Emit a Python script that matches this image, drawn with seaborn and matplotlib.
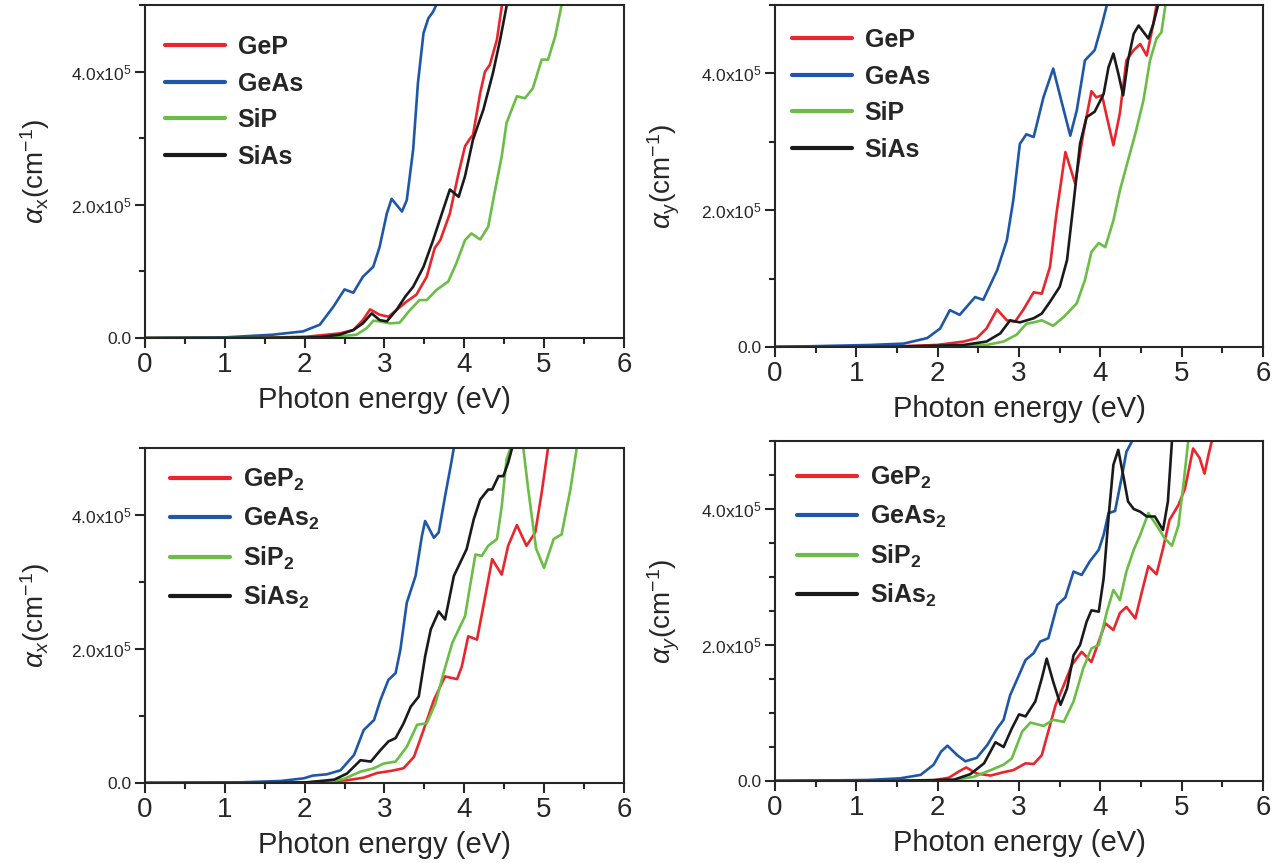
import numpy as np
import pandas as pd
import matplotlib
matplotlib.use("Agg")
from matplotlib import pyplot as plt
from matplotlib.ticker import MultipleLocator, FixedLocator, FixedFormatter
import seaborn as sns

# photon energy (eV) and absorption (in units of 1e5 cm^-1)
# --- top left: alpha_x, monolayers
tl_gep_e = [0, 1.5, 2.03, 2.44, 2.61, 2.73, 2.82, 2.94, 3.05, 3.15, 3.28, 3.4, 3.53, 3.63, 3.7, 3.82, 3.93, 4.01, 4.07, 4.11, 4.2, 4.26, 4.32, 4.41, 4.47, 4.52]
tl_gep_a = [0, 0.005, 0.02, 0.07, 0.12, 0.27, 0.43, 0.35, 0.32, 0.42, 0.55, 0.65, 0.92, 1.35, 1.47, 1.87, 2.48, 2.88, 2.99, 3.05, 3.68, 4.0, 4.1, 4.48, 4.98, 5.4]
tl_geas_e = [0, 1.0, 1.6, 1.98, 2.19, 2.36, 2.5, 2.61, 2.73, 2.86, 2.94, 3.03, 3.09, 3.22, 3.28, 3.36, 3.42, 3.49, 3.55, 3.61, 3.65, 3.72]
tl_geas_a = [0, 0.01, 0.05, 0.1, 0.2, 0.47, 0.73, 0.68, 0.92, 1.07, 1.37, 1.87, 2.09, 1.9, 2.07, 2.83, 3.83, 4.58, 4.8, 4.9, 5.0, 5.4]
tl_sip_e = [0, 1.5, 2.3, 2.65, 2.78, 2.86, 2.94, 3.07, 3.19, 3.32, 3.44, 3.53, 3.65, 3.8, 3.9, 4.01, 4.09, 4.2, 4.3, 4.38, 4.47, 4.53, 4.66, 4.76, 4.86, 4.97, 5.05, 5.14, 5.22, 5.28]
tl_sip_a = [0, 0.002, 0.01, 0.05, 0.15, 0.26, 0.25, 0.22, 0.23, 0.42, 0.57, 0.57, 0.72, 0.85, 1.12, 1.47, 1.57, 1.48, 1.67, 2.18, 2.73, 3.23, 3.63, 3.6, 3.75, 4.18, 4.18, 4.53, 5.0, 5.4]
tl_sias_e = [0, 1.5, 2.2, 2.44, 2.61, 2.73, 2.84, 2.94, 3.03, 3.15, 3.26, 3.36, 3.49, 3.61, 3.72, 3.82, 3.93, 4.01, 4.11, 4.24, 4.36, 4.45, 4.53, 4.6]
tl_sias_a = [0, 0.003, 0.015, 0.05, 0.12, 0.22, 0.37, 0.27, 0.25, 0.42, 0.62, 0.77, 1.07, 1.47, 1.87, 2.23, 2.12, 2.43, 2.98, 3.43, 3.98, 4.48, 4.98, 5.4]

# --- top right: alpha_y, monolayers
tr_gep_e = [0, 1.5, 1.99, 2.32, 2.48, 2.6, 2.73, 2.85, 2.95, 3.05, 3.18, 3.28, 3.38, 3.46, 3.57, 3.69, 3.79, 3.89, 3.95, 4.02, 4.08, 4.16, 4.24, 4.32, 4.41, 4.49, 4.57, 4.65, 4.69, 4.74]
tr_gep_a = [0, 0.01, 0.03, 0.08, 0.13, 0.27, 0.55, 0.39, 0.37, 0.54, 0.8, 0.78, 1.17, 1.95, 2.85, 2.39, 3.12, 3.74, 3.65, 3.68, 3.36, 2.95, 3.42, 4.19, 4.34, 4.43, 4.26, 4.72, 5.0, 5.4]
tr_geas_e = [0, 1.17, 1.58, 1.87, 2.03, 2.15, 2.27, 2.46, 2.56, 2.73, 2.85, 2.93, 3.01, 3.09, 3.18, 3.3, 3.42, 3.52, 3.63, 3.71, 3.81, 3.93, 4.02, 4.08, 4.14]
tr_geas_a = [0, 0.03, 0.05, 0.13, 0.27, 0.54, 0.47, 0.73, 0.69, 1.12, 1.56, 2.15, 2.97, 3.11, 3.07, 3.65, 4.07, 3.6, 3.09, 3.46, 4.19, 4.34, 4.72, 5.0, 5.4]
tr_sip_e = [0, 1.5, 2.6, 2.81, 2.97, 3.09, 3.18, 3.28, 3.42, 3.55, 3.71, 3.81, 3.89, 3.98, 4.06, 4.16, 4.24, 4.34, 4.43, 4.53, 4.61, 4.69, 4.75, 4.8, 4.85]
tr_sip_a = [0, 0.002, 0.03, 0.08, 0.18, 0.34, 0.36, 0.39, 0.31, 0.44, 0.64, 0.98, 1.39, 1.52, 1.46, 1.85, 2.29, 2.73, 3.12, 3.61, 4.19, 4.51, 4.6, 5.0, 5.4]
tr_sias_e = [0, 1.5, 2.32, 2.6, 2.77, 2.89, 3.01, 3.18, 3.28, 3.38, 3.5, 3.59, 3.67, 3.75, 3.83, 3.93, 4.04, 4.1, 4.16, 4.22, 4.28, 4.34, 4.41, 4.47, 4.59, 4.65, 4.71, 4.76]
tr_sias_a = [0, 0.005, 0.03, 0.08, 0.2, 0.39, 0.36, 0.42, 0.49, 0.66, 0.88, 1.27, 2.1, 2.97, 3.36, 3.44, 3.7, 4.09, 4.29, 4.0, 3.68, 4.19, 4.58, 4.7, 4.51, 4.72, 5.0, 5.4]

# --- bottom left: alpha_x, X2 compounds
bl_gep2_e = [0, 1.5, 2.03, 2.53, 2.74, 2.91, 3.08, 3.24, 3.37, 3.49, 3.62, 3.76, 3.91, 3.97, 4.05, 4.16, 4.24, 4.35, 4.47, 4.55, 4.66, 4.78, 4.89, 4.97, 5.05, 5.1]
bl_gep2_a = [0, 0.002, 0.01, 0.04, 0.08, 0.15, 0.18, 0.22, 0.39, 0.79, 1.24, 1.59, 1.55, 1.74, 2.19, 2.14, 2.64, 3.34, 3.11, 3.54, 3.85, 3.54, 3.74, 4.33, 5.0, 5.4]
bl_geas2_e = [0, 1.2, 1.7, 1.99, 2.1, 2.28, 2.45, 2.62, 2.74, 2.87, 2.95, 3.05, 3.14, 3.2, 3.28, 3.39, 3.47, 3.51, 3.62, 3.68, 3.76, 3.83, 3.87, 3.92]
bl_geas2_a = [0, 0.01, 0.03, 0.07, 0.11, 0.13, 0.19, 0.42, 0.79, 0.94, 1.24, 1.54, 1.64, 1.99, 2.69, 3.09, 3.69, 3.91, 3.66, 3.74, 4.28, 4.73, 5.0, 5.4]
bl_sip2_e = [0, 1.5, 2.24, 2.49, 2.7, 2.87, 2.99, 3.14, 3.28, 3.41, 3.53, 3.64, 3.74, 3.85, 3.93, 4.01, 4.08, 4.14, 4.22, 4.3, 4.41, 4.47, 4.53, 4.58, 4.66, 4.74, 4.8, 4.9, 5.0, 5.12, 5.22, 5.33, 5.41, 5.46]
bl_sip2_a = [0, 0.002, 0.01, 0.06, 0.17, 0.22, 0.29, 0.32, 0.54, 0.87, 0.89, 1.19, 1.64, 2.09, 2.29, 2.49, 2.99, 3.41, 3.39, 3.54, 3.64, 4.13, 4.83, 5.0, 5.6, 5.0, 4.4, 3.5, 3.21, 3.64, 3.71, 4.38, 5.0, 5.4]
bl_sias2_e = [0, 1.5, 2.03, 2.37, 2.53, 2.7, 2.83, 2.95, 3.05, 3.14, 3.24, 3.33, 3.43, 3.51, 3.58, 3.68, 3.76, 3.87, 3.95, 4.03, 4.12, 4.2, 4.3, 4.35, 4.43, 4.49, 4.55, 4.6, 4.65]
bl_sias2_a = [0, 0.003, 0.01, 0.05, 0.14, 0.34, 0.32, 0.49, 0.62, 0.67, 0.89, 1.14, 1.29, 1.89, 2.29, 2.56, 2.44, 3.09, 3.29, 3.49, 3.94, 4.23, 4.38, 4.38, 4.58, 4.58, 4.78, 5.0, 5.4]

# --- bottom right: alpha_y, X2 compounds
br_gep2_e = [0, 1.5, 1.95, 2.14, 2.26, 2.35, 2.48, 2.65, 2.81, 2.93, 3.08, 3.18, 3.28, 3.36, 3.45, 3.55, 3.65, 3.77, 3.89, 3.98, 4.06, 4.16, 4.24, 4.32, 4.43, 4.51, 4.59, 4.69, 4.77, 4.85, 4.96, 5.04, 5.14, 5.22, 5.28, 5.33, 5.37, 5.42]
br_gep2_a = [0, 0.002, 0.01, 0.05, 0.14, 0.2, 0.11, 0.08, 0.13, 0.16, 0.26, 0.25, 0.38, 0.73, 1.12, 1.41, 1.71, 1.9, 1.75, 2.05, 2.32, 2.22, 2.47, 2.56, 2.39, 2.78, 3.16, 3.04, 3.42, 3.84, 4.06, 4.3, 4.89, 4.75, 4.52, 4.8, 5.0, 5.4]
br_geas2_e = [0, 1.14, 1.54, 1.79, 1.95, 2.04, 2.12, 2.24, 2.34, 2.48, 2.61, 2.73, 2.81, 2.89, 3.0, 3.08, 3.18, 3.26, 3.36, 3.47, 3.57, 3.67, 3.77, 3.87, 3.98, 4.04, 4.1, 4.18, 4.26, 4.32, 4.39, 4.44]
br_geas2_a = [0, 0.015, 0.04, 0.09, 0.24, 0.43, 0.52, 0.38, 0.29, 0.34, 0.53, 0.77, 0.9, 1.26, 1.56, 1.78, 1.88, 2.05, 2.1, 2.59, 2.7, 3.08, 3.03, 3.23, 3.4, 3.62, 3.94, 3.97, 4.45, 4.84, 5.0, 5.4]
br_sip2_e = [0, 1.5, 2.16, 2.44, 2.65, 2.81, 2.91, 3.04, 3.14, 3.3, 3.42, 3.55, 3.67, 3.79, 3.89, 3.98, 4.08, 4.16, 4.24, 4.32, 4.41, 4.49, 4.59, 4.69, 4.79, 4.88, 4.96, 5.02, 5.08, 5.12]
br_sip2_a = [0, 0.002, 0.01, 0.06, 0.16, 0.24, 0.33, 0.73, 0.86, 0.81, 0.9, 0.87, 1.17, 1.66, 1.95, 2.0, 2.49, 2.81, 2.66, 3.08, 3.4, 3.62, 3.94, 3.76, 3.57, 3.46, 3.76, 4.35, 5.0, 5.4]
br_sias2_e = [0, 1.5, 2.2, 2.4, 2.57, 2.71, 2.81, 2.91, 3.0, 3.08, 3.2, 3.28, 3.34, 3.42, 3.51, 3.59, 3.67, 3.75, 3.83, 3.89, 3.98, 4.04, 4.1, 4.16, 4.22, 4.28, 4.34, 4.41, 4.49, 4.57, 4.67, 4.77, 4.83, 4.88, 4.92]
br_sias2_a = [0, 0.003, 0.02, 0.1, 0.26, 0.57, 0.5, 0.77, 0.98, 0.95, 1.17, 1.51, 1.8, 1.46, 1.12, 1.36, 1.85, 2.0, 2.34, 2.51, 2.49, 2.98, 3.87, 4.65, 4.87, 4.5, 4.11, 4.0, 3.96, 3.89, 3.89, 3.69, 4.11, 5.0, 5.4]

labels_mono = ["GeP", "GeAs", "SiP", "SiAs"]
labels_di = [r"GeP$_\mathbf{2}$", r"GeAs$_\mathbf{2}$", r"SiP$_\mathbf{2}$", r"SiAs$_\mathbf{2}$"]
colors = ["#e8262b", "#1f57a8", "#6abd45", "#1a1a1a"]
ytick_vals = [0, 2e5, 4e5]
ytick_labels = ["0.0", r"2.0x10$^5$", r"4.0x10$^5$"]

sns.set_style("ticks")
plt.rcParams["font.family"] = ["Liberation Sans", "DejaVu Sans"]
plt.rcParams["mathtext.fontset"] = "custom"
plt.rcParams["mathtext.rm"] = "Liberation Sans"
plt.rcParams["mathtext.it"] = "Liberation Sans:italic"
plt.rcParams["mathtext.bf"] = "Liberation Sans:bold"
plt.rcParams["axes.linewidth"] = 1.5

fig = plt.figure(figsize=(12.81, 8.63), dpi=100)

panels = [
    # rect, data, labels, ylabel, minor y step, legend nudge (px right, px down)
    ([0.1132, 0.6083, 0.3738, 0.3859],
     [(tl_gep_e, tl_gep_a), (tl_geas_e, tl_geas_a), (tl_sip_e, tl_sip_a), (tl_sias_e, tl_sias_a)],
     labels_mono, r"$\alpha_\mathrm{x}$(cm$^{-1}$)", 1e5, (0, 10)),
    ([0.6050, 0.5979, 0.3810, 0.3963],
     [(tr_gep_e, tr_gep_a), (tr_geas_e, tr_geas_a), (tr_sip_e, tr_sip_a), (tr_sias_e, tr_sias_a)],
     labels_mono, r"$\alpha_\mathrm{y}$(cm$^{-1}$)", 1e5, (-3, 3)),
    ([0.1132, 0.0927, 0.3738, 0.3882],
     [(bl_gep2_e, bl_gep2_a), (bl_geas2_e, bl_geas2_a), (bl_sip2_e, bl_sip2_a), (bl_sias2_e, bl_sias2_a)],
     labels_di, r"$\alpha_x$(cm$^{-1}$)", 1e5, (5, -1)),
    ([0.6050, 0.0950, 0.3810, 0.3940],
     [(br_gep2_e, br_gep2_a), (br_geas2_e, br_geas2_a), (br_sip2_e, br_sip2_a), (br_sias2_e, br_sias2_a)],
     labels_di, r"$\alpha_y$(cm$^{-1}$)", 0.5e5, (2, 4)),
]

for rect, series, names, ylab, ystep, nudge in panels:
    ax = fig.add_axes(rect)
    for (e, a), name, c in zip(series, names, colors):
        df = pd.DataFrame({"energy": e, "alpha": np.array(a) * 1e5})
        sns.lineplot(data=df, x="energy", y="alpha", color=c, lw=1.9, label=name, ax=ax)
    ax.set_xlim(0, 6)
    ax.set_ylim(0, 5e5)
    ax.xaxis.set_major_locator(MultipleLocator(1))
    ax.xaxis.set_minor_locator(MultipleLocator(0.5))
    ax.yaxis.set_major_locator(FixedLocator(ytick_vals))
    ax.yaxis.set_major_formatter(FixedFormatter(ytick_labels))
    ax.yaxis.set_minor_locator(MultipleLocator(ystep))
    ax.tick_params(axis="both", which="major", direction="out", length=7, width=1.5)
    ax.tick_params(axis="both", which="minor", direction="out", length=4, width=1.5)
    ax.tick_params(axis="x", labelsize=20, pad=3)
    ax.tick_params(axis="y", labelsize=12.5, pad=3)
    ax.set_xlabel("Photon energy (eV)", fontsize=21, labelpad=6)
    ax.set_ylabel(ylab, fontsize=20, labelpad=13)
    for s in ax.spines.values():
        s.set_visible(True)
        s.set_linewidth(1.5)
    wpx = rect[2] * 1281
    hpx = rect[3] * 863
    leg = ax.legend(loc="upper left", frameon=False, prop={"weight": "bold", "size": 18},
                    handlelength=2.4, handletextpad=0.5, labelspacing=0.5,
                    borderaxespad=0.4,
                    bbox_to_anchor=(nudge[0] / wpx, 1 - nudge[1] / hpx))
    for h in leg.get_lines():
        h.set_linewidth(3)

plt.savefig("out.png", dpi=100)
